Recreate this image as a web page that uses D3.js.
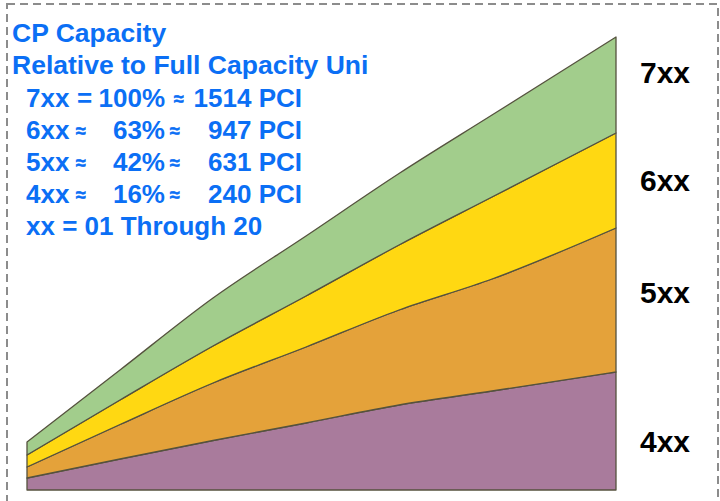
<!DOCTYPE html>
<html>
<head>
<meta charset="utf-8">
<script src="https://cdn.jsdelivr.net/npm/d3@7"></script>
<style>
  html, body { margin: 0; padding: 0; background: #fff; }
  svg { display: block; font-family: "Liberation Sans", Arial, sans-serif; font-weight: bold; }
</style>
</head>
<body>
<div id="viz"></div>
<script>
// unit numbers along the x direction (xx = 01 .. 20)
let units = [1, 4, 7, 10, 13, 16, 20];
// relative band heights, bottom to top
let cap4xx = [12, 31, 49.5, 67, 85, 99, 118];
let cap5xx = [11, 34.5, 57.5, 76, 95, 112, 144];
let cap6xx = [12, 24.5, 37, 51, 65, 82, 95];
let cap7xx = [13, 30, 48, 60, 71.5, 82, 96];

let series_names = ['4xx', '5xx', '6xx', '7xx'];
let color = ['#a97b9c', '#e4a23a', '#ffd812', '#a2cd8c'];

// legend rows
let row_names = ['7xx', '6xx', '5xx', '4xx'];
let row_signs = ['=', '\u2248', '\u2248', '\u2248'];
let row_pct = ['100%', '63%', '42%', '16%'];
let row_pci = ['1514 PCI', '947 PCI', '631 PCI', '240 PCI'];

const width = 720, height = 501;

const svg = d3.select('#viz').append('svg')
    .attr('width', width)
    .attr('height', height);

// dashed frame
svg.append('rect')
    .attr('x', 7).attr('y', 4)
    .attr('width', 711).attr('height', 520)
    .attr('fill', 'none')
    .attr('stroke', '#8c8c8c')
    .attr('stroke-width', 2)
    .attr('stroke-dasharray', '8,5');

const table = units.map((u, i) => ({
    unit: u,
    '4xx': cap4xx[i],
    '5xx': cap5xx[i],
    '6xx': cap6xx[i],
    '7xx': cap7xx[i]
}));

const x = d3.scaleLinear().domain([1, 20]).range([27, 616]);
const y = d3.scaleLinear().domain([0, 460]).range([490, 30]);

const stacked = d3.stack().keys(series_names)(table);

const area = d3.area()
    .x(d => x(d.data.unit))
    .y0(d => y(d[0]))
    .y1(d => y(d[1]))
    .curve(d3.curveMonotoneX);

svg.append('g')
    .selectAll('path')
    .data(stacked)
    .join('path')
    .attr('d', area)
    .attr('fill', (d, i) => color[i])
    .attr('stroke', '#55523e')
    .attr('stroke-width', 1.3)
    .attr('stroke-linejoin', 'round');

// labels on the right of each band
const label_y = [452, 303, 191, 83];
svg.append('g')
    .selectAll('text')
    .data(series_names)
    .join('text')
    .attr('x', 640)
    .attr('y', (d, i) => label_y[i])
    .attr('font-size', 30)
    .attr('fill', '#000')
    .text(d => d);

// legend text
const blue = '#0b6ff5';
const legend = svg.append('g').attr('fill', blue);

legend.append('text').attr('x', 12).attr('y', 42).attr('font-size', 26.5).text('CP Capacity');
legend.append('text').attr('x', 12).attr('y', 74).attr('font-size', 26.5).text('Relative to Full Capacity Uni');

row_names.forEach(function (name, i) {
    let yy = 107 + i * 32;
    let g = legend.append('g');
    g.append('text').attr('x', 26).attr('y', yy).attr('font-size', 26).text(name);
    if (row_signs[i] === '=') {
        g.append('text').attr('x', 77).attr('y', yy).attr('font-size', 26).text('=');
    } else {
        g.append('text').attr('x', 76).attr('y', yy - 2).attr('font-size', 18)
            .attr('stroke', blue).attr('stroke-width', 0.6).text(row_signs[i]);
    }
    g.append('text').attr('x', 165).attr('y', yy).attr('text-anchor', 'end').attr('font-size', 26).text(row_pct[i]);
    g.append('text').attr('x', i === 0 ? 174 : 170).attr('y', yy - 2).attr('font-size', 18)
        .attr('stroke', blue).attr('stroke-width', 0.6).text('\u2248');
    g.append('text').attr('x', 302).attr('y', yy).attr('text-anchor', 'end').attr('font-size', 26).text(row_pci[i]);
});

legend.append('text').attr('x', 26).attr('y', 235).attr('font-size', 26).text('xx = 01 Through 20');
</script>
</body>
</html>
